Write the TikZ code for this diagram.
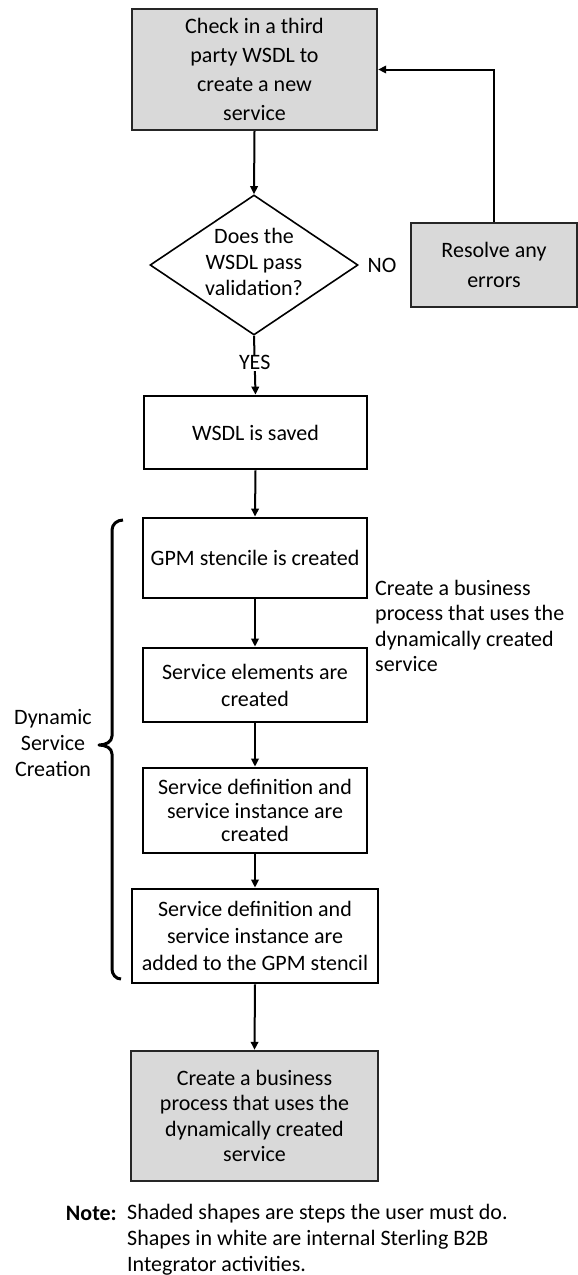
\documentclass[tikz,border=0pt]{standalone}
\usepackage{fontspec}
\setmainfont{Carlito}
\usetikzlibrary{arrows.meta,shapes.geometric}
\begin{document}
\begin{tikzpicture}[x=1pt,y=-1pt,
  every node/.style={text=black, font=\fontsize{22}{25}\selectfont},
  boxw/.style={draw=black, line width=2.8pt, fill=white, inner sep=0pt, align=center},
  boxg/.style={draw=black!85, line width=2.4pt, fill=black!15, inner sep=0pt, align=center},
  conn/.style={draw=black, line width=2pt, -{Triangle[length=8pt,width=7.5pt]}},
  lbl/.style={inner sep=0pt, align=center}]
\useasboundingbox (0,0) rectangle (578,1275);

% boxes
\node[boxg, minimum width=245pt, minimum height=121pt, font=\fontsize{22}{29}\selectfont] (check) at (254.5,69.5)
  {Check in a third\\party WSDL to\\create a new\\service};
\node[diamond, draw=black, line width=1.6pt, fill=white, minimum width=208pt, minimum height=140pt, inner sep=0pt] (valid) at (254,265) {};
\node[lbl, font=\fontsize{22}{26}\selectfont] (validtxt) at (254,262) {Does the\\WSDL pass\\validation?};
\node[boxg, minimum width=166pt, minimum height=84pt, font=\fontsize{22}{30}\selectfont] (resolve) at (494,265) {Resolve any\\errors};
\node[lbl] (no) at (382,265) {NO};
\node[boxw, minimum width=223pt, minimum height=73pt] (saved) at (255.5,432.5) {WSDL is saved};
\node[boxw, minimum width=224pt, minimum height=80pt] (gpm) at (255,558) {GPM stencile is created};
\node[boxw, minimum width=224pt, minimum height=74pt, font=\fontsize{22}{27}\selectfont] (elem) at (255,685) {Service elements are\\created};
\node[boxw, minimum width=224pt, minimum height=85pt, font=\fontsize{22}{23.5}\selectfont] (def1) at (255,810.5) {Service definition and\\service instance are\\created};
\node[boxw, minimum width=246pt, minimum height=94pt, font=\fontsize{22}{27}\selectfont] (def2) at (255,936) {Service definition and\\service instance are\\added to the GPM stencil};
\node[boxg, minimum width=247pt, minimum height=130pt, font=\fontsize{22}{25.5}\selectfont] (create) at (254.5,1116) {Create a business\\process that uses the\\dynamically created\\service};

% side texts
\node[lbl, anchor=west, align=left, font=\fontsize{22}{25.6}\selectfont] (side) at (375,626) {Create a business\\process that uses the\\dynamically created\\service};
\node[lbl, font=\fontsize{22}{26}\selectfont] (dyn) at (53,743) {Dynamic\\Service\\Creation};
\node[lbl, anchor=east, font=\bfseries\fontsize{22}{26}\selectfont] (note) at (117,1213) {Note:};
\node[lbl, anchor=west, align=left, font=\fontsize{22}{26}\selectfont] (notetxt) at (127,1240) {Shaded shapes are steps the user must do.\\Shapes in white are internal Sterling B2B\\Integrator activities.};

% connectors
\draw[conn] (check.south) -- (valid.north);
\draw[conn] (valid.south) -- node[pos=0.46, fill=white, inner sep=1pt] (yes) {YES} (saved.north);
\draw[conn] (resolve.north) |- (check.east);
\draw[conn] (saved.south) -- (gpm.north);
\draw[conn] (gpm.south) -- (elem.north);
\draw[conn] (elem.south) -- (def1.north);
\draw[conn] (def1.south) -- (def2.north);
\draw[conn] (def2.south) -- (create.north);

% brace
\draw[black, line width=3pt, line join=round]
  (123,520) to[out=180,in=90] (112,530) -- (112,736)
  to[out=-90,in=0] (99,745) to[out=0,in=90] (112,754)
  -- (112,969) to[out=-90,in=180] (121,979);
\end{tikzpicture}
\end{document}
